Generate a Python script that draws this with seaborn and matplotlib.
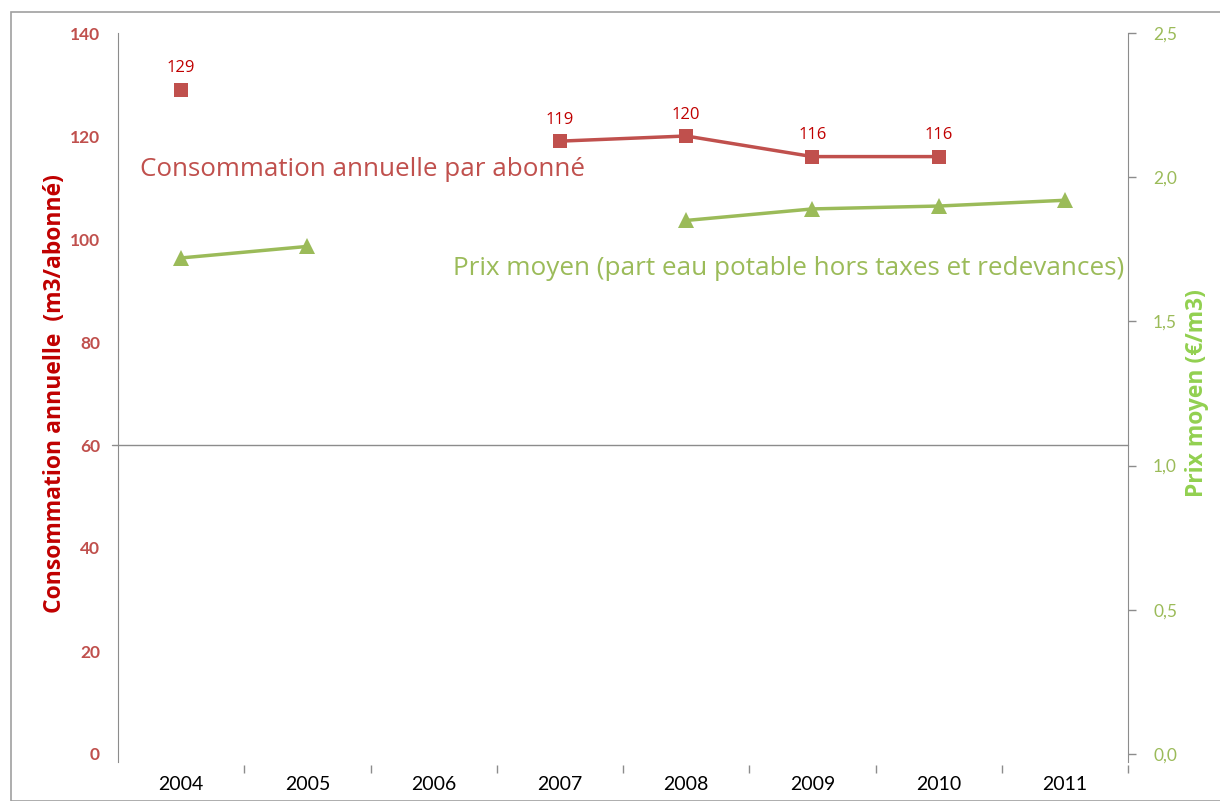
import numpy as np
import pandas as pd
import matplotlib.pyplot as plt
import seaborn as sns
from matplotlib.patches import Rectangle

# Data
years = [2004, 2005, 2006, 2007, 2008, 2009, 2010, 2011]
consommation = [129, np.nan, np.nan, 119, 120, 116, 116, np.nan]
prix = [1.72, 1.76, np.nan, np.nan, 1.85, 1.89, 1.90, 1.92]
left_ticks = [0, 20, 40, 60, 80, 100, 120, 140]
right_ticks = [0.0, 0.5, 1.0, 1.5, 2.0, 2.5]
right_tick_labels = ["0,0", "0,5", "1,0", "1,5", "2,0", "2,5"]

RED = "#C0504D"
DARKRED = "#C00000"
GREEN = "#9BBB59"
LIGHTGREEN = "#92D050"
GRAY = "#8C8C8C"

sns.set_style("white")
plt.rcParams["font.family"] = ["Lato", "DejaVu Sans"]


def segments(values):
    # split a series into runs without gaps, so lines are not drawn across missing years
    df = pd.DataFrame({"year": years, "value": values})
    df["seg"] = df["value"].isna().cumsum()
    return df.dropna()


fig = plt.figure(figsize=(12.2, 8.01), dpi=100)
fig.patches.append(Rectangle((11 / 1220, 0), 1.2, 1 - 12 / 801, transform=fig.transFigure,
                             fill=False, edgecolor="#A0A0A0", linewidth=1.2))
ax = fig.add_axes([118 / 1220, 47 / 801, 1010 / 1220, 721 / 801])
ax2 = ax.twinx()

df_c = segments(consommation)
df_p = segments(prix)

sns.lineplot(data=df_c, x="year", y="value", units="seg", estimator=None, ax=ax,
             color=RED, linewidth=2.5, marker="s", markersize=10.5, markeredgewidth=0)
sns.lineplot(data=df_p, x="year", y="value", units="seg", estimator=None, ax=ax2,
             color=GREEN, linewidth=2.5, marker="^", markersize=11, markeredgewidth=0)

ax.set_xlim(2003.5, 2011.5)
ax.set_ylim(0, 140)
ax2.set_ylim(0, 2.5)

# horizontal line at 60
ax.axhline(60, xmin=-0.006, xmax=1, color=GRAY, linewidth=1, clip_on=False)

# data labels
for _, r in df_c.iterrows():
    ax.text(r["year"], r["value"] + 2.6, f"{int(r['value'])}", color=DARKRED,
            fontsize=12, ha="center", va="bottom", family=["Open Sans", "DejaVu Sans"])

ax.text(2003.675, 113.4, "Consommation annuelle par abonné", color=RED, fontsize=18.7,
        ha="left", va="center", family=["Open Sans", "DejaVu Sans"])
ax2.text(2011.47, 1.685, "Prix moyen (part eau potable hors taxes et redevances)", color=GREEN,
         fontsize=18.8, ha="right", va="center", family=["Open Sans", "DejaVu Sans"])

# axes styling
for a in (ax, ax2):
    for s in ("top", "bottom"):
        a.spines[s].set_visible(False)
    a.spines["left"].set_color(GRAY)
    a.spines["right"].set_color(GRAY)
    a.spines["left"].set_bounds(-1.5, 140)
ax.spines["right"].set_visible(False)
ax2.spines["left"].set_visible(False)
ax2.spines["right"].set_bounds(-0.027, 2.5)

ax.spines["bottom"].set_position(("outward", 8))
ax.set_xticks(years)
ax.set_xticklabels([str(y) for y in years], fontsize=14, color="#000000")
ax.set_xticks([2003.5 + k for k in range(1, 9)], minor=True)
ax.tick_params(axis="x", which="major", length=0, pad=8)
ax.tick_params(axis="x", which="minor", length=6, width=1, color=GRAY, direction="out", bottom=True)
ax.set_xlabel("")

ax.set_yticks(left_ticks)
ax.set_yticklabels([str(t) for t in left_ticks], fontsize=12.5, color=RED, fontweight="bold")
ax.tick_params(axis="y", length=0, pad=13)
ax.set_ylabel("Consommation annuelle  (m3/abonné)", color=DARKRED, fontsize=16.5,
              fontweight="bold", labelpad=2, family=["Open Sans", "DejaVu Sans"])

ax2.set_yticks(right_ticks)
ax2.set_yticklabels(right_tick_labels, fontsize=12.5, color=GREEN)
ax2.tick_params(axis="y", length=6, width=1, color=GRAY, direction="out", pad=12)
ax2.set_ylabel("Prix moyen (€/m3)", color=LIGHTGREEN, fontsize=16.5, fontweight="bold",
               labelpad=6, family=["Open Sans", "DejaVu Sans"])

fig.savefig("out.png", dpi=100)
